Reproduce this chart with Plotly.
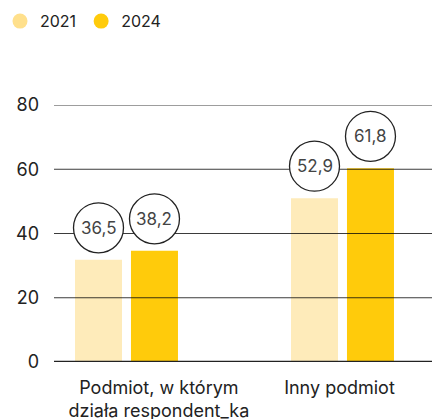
import plotly.graph_objects as go

# ---- data ----
categories = ["Podmiot, w którym<br>działa respondent_ka", "Inny podmiot"]
series_names = ["2021", "2024"]
bar_2021 = [31.8, 51.0]          # bar heights as drawn
bar_2024 = [34.6, 60.3]
label_2021 = ["36,5", "52,9"]    # values printed in the circles
label_2024 = ["38,2", "61,8"]
y_ticks = [0, 20, 40, 60, 80]

# ---- styles ----
C21 = "#FEEBBA"
C21_LEG = "#FFE08C"
C24 = "#FFCB0B"
FONT = "Inter"
cat_pos = list(range(len(categories)))
bar_w = 0.2176
offsets = {"2021": -0.2384, "2024": 0.0208}
label_nudge = [0.150, -0.014]

fig = go.Figure()
for name, vals, col in [("2021", bar_2021, C21), ("2024", bar_2024, C24)]:
    fig.add_trace(go.Bar(x=cat_pos, y=vals, name=name, marker_color=col,
                         marker_line_width=0, width=bar_w, offset=offsets[name],
                         showlegend=False, hoverinfo="skip"))
# legend entries with round markers
for name, col in [("2021", C21_LEG), ("2024", C24)]:
    fig.add_trace(go.Scatter(x=[None], y=[None], mode="markers", name=name,
                             marker=dict(symbol="circle", size=15, color=col)))

shapes = []
for t in y_ticks:
    shapes.append(dict(type="line", xref="paper", x0=0, x1=1, yref="y", y0=t, y1=t,
                       layer="above",
                       line=dict(color="#222222" if t == 0 else "rgba(10,10,10,0.8)",
                                 width=2.5 if t == 0 else 1)))

annotations = []
for name, vals, labels in [("2021", bar_2021, label_2021), ("2024", bar_2024, label_2024)]:
    for i, (v, lab) in enumerate(zip(vals, labels)):
        xc = cat_pos[i] + offsets[name] + bar_w / 2
        shapes.append(dict(type="circle", xref="x", yref="y", xsizemode="pixel",
                           ysizemode="pixel", xanchor=xc, yanchor=v,
                           x0=-25, x1=25, y0=7, y1=57, layer="above",
                           fillcolor="white", line=dict(color="#222222", width=1.3)))
        annotations.append(dict(x=xc, y=v, xref="x", yref="y", text=lab, showarrow=False,
                                yshift=32, font=dict(family=FONT, size=17, color="#444444")))

fig.update_layout(
    width=432, height=419,
    margin=dict(l=54, r=0, t=105, b=57, autoexpand=False),
    paper_bgcolor="white", plot_bgcolor="white",
    barmode="overlay",
    font=dict(family=FONT, color="#222222"),
    shapes=shapes, annotations=annotations,
    legend=dict(orientation="h", xref="container", yref="container",
                x=0.0, y=0.99, xanchor="left", yanchor="top",
                font=dict(family=FONT, size=16, color="#222222"),
                itemwidth=30, traceorder="normal"),
    xaxis=dict(range=[-0.3356, 1.4144], tickvals=[p + d for p, d in zip(cat_pos, label_nudge)],
               ticktext=categories, showgrid=False, zeroline=False, showline=False,
               ticks="", tickfont=dict(family=FONT, size=18, color="#222222"),
               ticklabelstandoff=13, automargin=False, fixedrange=True),
    yaxis=dict(range=[0, 80], tickvals=y_ticks, ticktext=[str(t) for t in y_ticks],
               showgrid=False, zeroline=False, showline=False, ticks="",
               tickfont=dict(family=FONT, size=18, color="#222222"),
               ticklabelstandoff=14, automargin=False, fixedrange=True),
)

fig.write_html("out.html", config={"displayModeBar": False},
               post_script="document.body.style.margin='0';document.body.style.overflow='hidden';")
